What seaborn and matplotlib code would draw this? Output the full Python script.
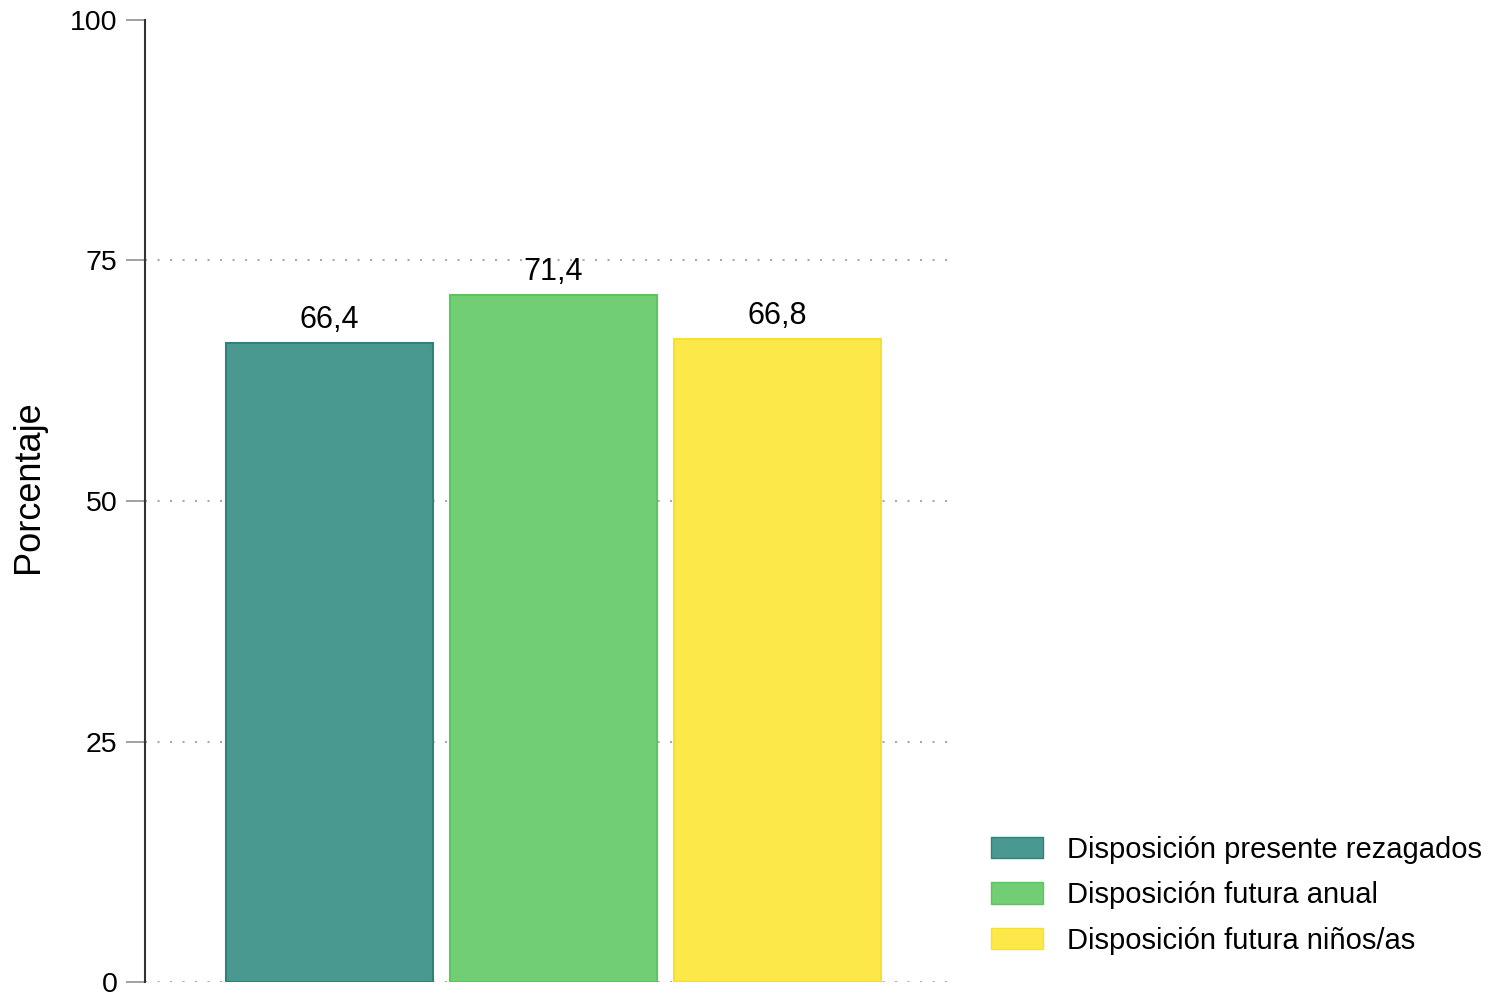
import matplotlib
matplotlib.use("Agg")
import matplotlib.pyplot as plt
import seaborn as sns
import pandas as pd

# datos del grafico
categorias = ['Disposición presente rezagados', 'Disposición futura anual', 'Disposición futura niños/as']
valores = [66.4, 71.4, 66.8]
colores = ['#4A9990', '#71CE74', '#FDE84A']
bordes = ['#2E8279', '#5CC55F', '#F5E030']
yticks = [0, 25, 50, 75, 100]

sns.set_style('white')
plt.rcParams['font.family'] = ['Liberation Sans', 'DejaVu Sans']
plt.rcParams['text.color'] = 'black'

df = pd.DataFrame({'cat': categorias, 'val': valores})

fig = plt.figure(figsize=(15.06, 9.97), dpi=100)
ax = fig.add_axes([0.0963, 0.015, 0.539, 0.965])

sns.barplot(data=df, x='cat', y='val', hue='cat', palette=dict(zip(categorias, colores)),
            width=0.925, saturation=1, legend=True, ax=ax, zorder=2)

for p, c in zip(ax.patches, bordes):
    p.set_edgecolor(c)
    p.set_linewidth(1.5)

for cont in ax.containers:
    ax.bar_label(cont, labels=[f'{v:.1f}'.replace('.', ',') for v in cont.datavalues],
                 padding=6, fontsize=22, color='black')

ax.set_ylim(0, 100)
ax.set_xlim(-0.824, 2.80)
ax.set_yticks(yticks)
ax.set_yticklabels([str(t) for t in yticks], fontsize=20.5, color='black')
ax.tick_params(axis='y', left=True, length=14, width=1.3, color='#999999', pad=6)
ax.set_xticks([])
ax.set_xlabel('')
ax.set_ylabel('Porcentaje', fontsize=26, color='black')
ax.yaxis.set_label_coords(-0.122, 0.515)

ax.yaxis.grid(True, linestyle=(0, (1, 5)), color='#aaaaaa', linewidth=1.5, zorder=0)
ax.set_axisbelow(True)
ax.get_ygridlines()[-1].set_visible(False)

for s in ['top', 'right', 'bottom']:
    ax.spines[s].set_visible(False)
ax.spines['left'].set_color('#333333')
ax.spines['left'].set_linewidth(1.5)

leg = ax.get_legend()
handles = leg.legend_handles
for h, c in zip(handles, bordes):
    h.set_edgecolor(c)
leg.remove()
fig.legend(handles, categorias, loc='lower left', bbox_to_anchor=(0.6405, 0.016),
           frameon=False, fontsize=21, handlelength=1.8, handleheight=0.75,
           labelspacing=0.6, handletextpad=0.8)

fig.savefig('out.png', dpi=100)
